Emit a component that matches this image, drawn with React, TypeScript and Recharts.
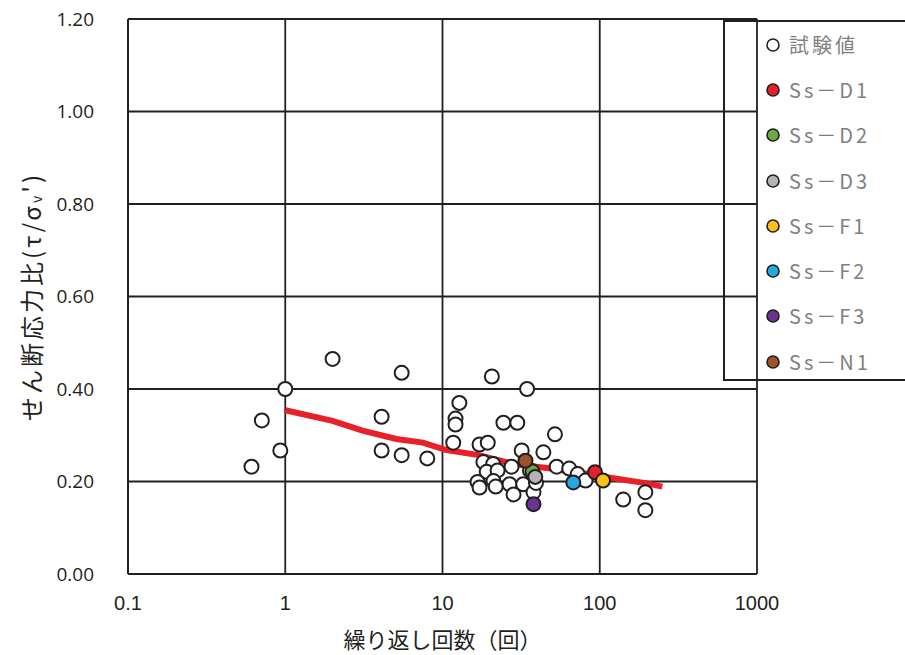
import { ComposedChart, Scatter, Line, XAxis, YAxis, CartesianGrid, Label } from 'recharts'

// 試験値 (cycles, stress ratio)
const testN = [0.61, 0.71, 0.93, 1.0, 2.0, 4.1, 4.1, 5.5, 5.5, 8.0, 12.8, 12.1, 12.1, 11.7, 20.6, 34.5, 24.4, 29.9, 51.9, 17.2, 19.4, 31.9, 43.8, 18.2, 21.0, 27.5, 19.1, 22.4, 36.0, 53.2, 64.0, 72.4, 81.2, 16.7, 17.2, 21.1, 21.8, 26.7, 32.6, 28.3, 37.9, 39.3, 141, 195, 195]
const testRatio = [0.232, 0.332, 0.267, 0.4, 0.465, 0.34, 0.267, 0.435, 0.257, 0.25, 0.37, 0.336, 0.323, 0.284, 0.427, 0.4, 0.327, 0.327, 0.302, 0.28, 0.284, 0.267, 0.263, 0.242, 0.238, 0.232, 0.221, 0.224, 0.224, 0.232, 0.228, 0.216, 0.202, 0.199, 0.187, 0.201, 0.189, 0.194, 0.194, 0.172, 0.177, 0.197, 0.161, 0.177, 0.138]

// 基準地震動ごとの値
const caseNames = ['Ss－D1', 'Ss－D2', 'Ss－D3', 'Ss－F1', 'Ss－F2', 'Ss－F3', 'Ss－N1']
const caseN = [93.3, 37.3, 38.9, 104.9, 67.9, 37.9, 33.7]
const caseRatio = [0.22, 0.222, 0.21, 0.202, 0.198, 0.151, 0.245]
const caseColors = ['#e8202a', '#6aaa45', '#b3b3b3', '#fbc116', '#25a9e0', '#6b3394', '#a0522d']

// 液状化強度曲線
const curveN = [1, 2, 3.1, 5.1, 7.5, 10.6, 17, 28, 46, 75, 122, 200, 250]
const curveRatio = [0.354, 0.331, 0.31, 0.292, 0.284, 0.268, 0.257, 0.238, 0.229, 0.219, 0.207, 0.196, 0.189]

const xTicks = [0.1, 1, 10, 100, 1000]
const yTicks = [0, 0.2, 0.4, 0.6, 0.8, 1.0, 1.2]

const testData = testN.map((x, i) => ({ x, y: testRatio[i] }))
const curveData = curveN.map((x, i) => ({ x, y: curveRatio[i] }))

const ink = '#231f20'
const jp = '"Noto Sans CJK JP", "Noto Sans", sans-serif'

const dot = (fill: string) => (props: any) => (
  <circle cx={props.cx} cy={props.cy} r={7} fill={fill} stroke={ink} strokeWidth={2} />
)

const legendItems = [{ name: '試験値', color: '#ffffff' }, ...caseNames.map((name, i) => ({ name, color: caseColors[i] }))]

function LegendBox() {
  return (
    <div style={{ position: 'absolute', left: 723, top: 20, width: 200, height: 361, border: `2px solid ${ink}`, borderRight: 'none', boxSizing: 'border-box' }}>
      {legendItems.map((it) => (
        <div key={it.name} style={{ display: 'flex', alignItems: 'center', height: 45.3 }}>
          <svg width={64} height={20} style={{ display: 'block', flex: 'none' }}>
            <circle cx={48} cy={10} r={6} fill={it.color} stroke={ink} strokeWidth={1.6} />
          </svg>
          <span style={{ fontFamily: jp, fontSize: 20, color: '#7f7f7f', letterSpacing: 3, lineHeight: '20px' }}>{it.name}</span>
        </div>
      ))}
    </div>
  )
}

function YLabel(props: any) {
  const { viewBox } = props
  const cy = viewBox.y + viewBox.height / 2
  const cx = 30
  return (
    <text x={cx} y={cy} transform={`rotate(-90 ${cx} ${cy})`} textAnchor="middle" dominantBaseline="central" fontSize={24} letterSpacing={3} fill={ink} fontFamily={jp}>
      <tspan>せん断応力比(τ/σ</tspan>
      <tspan fontSize={14} dy={6}>v</tspan>
      <tspan dy={-6}>')</tspan>
    </text>
  )
}

export default function App() {
  return (
    <div style={{ position: 'absolute', left: 0, top: 0, width: 905, height: 655, overflow: 'hidden', background: '#fff' }}>
      <ComposedChart width={905} height={655} margin={{ top: 19, right: 148, bottom: 0, left: 0 }}>
        <CartesianGrid stroke={ink} strokeWidth={1.8} horizontalValues={yTicks} verticalValues={xTicks} />
        <XAxis
          type="number"
          dataKey="x"
          scale="log"
          domain={[0.1, 1000]}
          ticks={xTicks}
          allowDataOverflow
          height={81}
          axisLine={{ stroke: ink, strokeWidth: 2 }}
          tickLine={false}
          tickMargin={16}
          tick={{ fontSize: 20, fill: ink, fontFamily: '"Liberation Sans Narrow", "Liberation Sans", sans-serif' }}
          tickFormatter={(v) => String(v)}
        >
          <Label value="繰り返し回数（回）" position="insideBottom" offset={7} style={{ fontSize: 22, fill: ink, fontFamily: jp }} />
        </XAxis>
        <YAxis
          type="number"
          dataKey="y"
          domain={[0, 1.2]}
          ticks={yTicks}
          width={128}
          axisLine={{ stroke: ink, strokeWidth: 2 }}
          tickLine={false}
          tickMargin={28}
          tick={{ fontSize: 19, fill: ink, fontFamily: '"Open Sans", "Noto Sans", sans-serif' }}
          tickFormatter={(v) => Number(v).toFixed(2)}
        >
          <Label content={<YLabel />} />
        </YAxis>
        <Line data={curveData} dataKey="y" stroke="#e8202a" strokeWidth={6} dot={false} activeDot={false} isAnimationActive={false} legendType="none" />
        <Scatter name="試験値" data={testData} dataKey="y" shape={dot('#ffffff')} isAnimationActive={false} />
        {caseNames.map((name, i) => (
          <Scatter key={name} name={name} data={[{ x: caseN[i], y: caseRatio[i] }]} dataKey="y" shape={dot(caseColors[i])} isAnimationActive={false} />
        ))}
      </ComposedChart>
      <LegendBox />
    </div>
  )
}
